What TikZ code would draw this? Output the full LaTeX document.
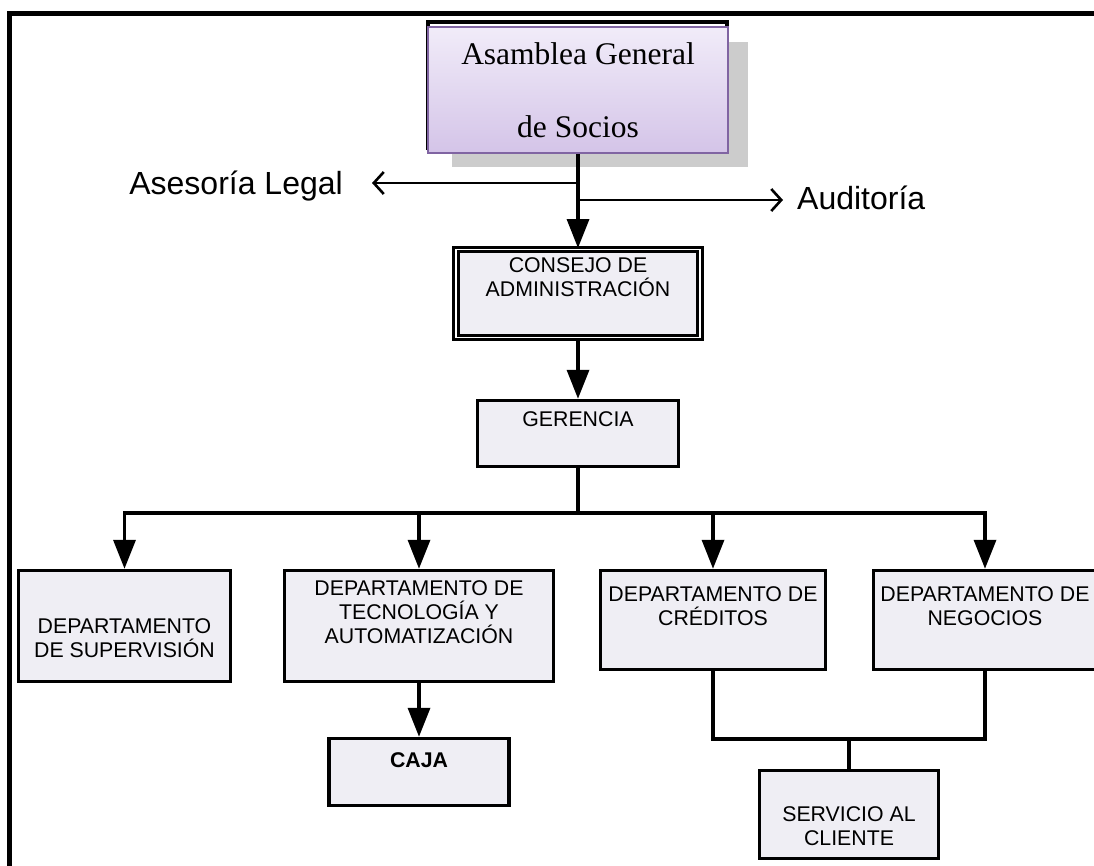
\documentclass[tikz,border=0pt]{standalone}
\usepackage{fontspec}
\setmainfont{Liberation Serif}
\setsansfont{Liberation Sans}
\usetikzlibrary{arrows.meta,positioning}

\definecolor{boxfill}{RGB}{239,238,244}
\definecolor{asamborder}{RGB}{128,100,162}
\definecolor{asamtop}{RGB}{241,236,249}
\definecolor{asambottom}{RGB}{212,196,232}

\tikzset{
  dept/.style = {draw, line width=3.5pt, fill=boxfill, inner sep=0pt},
  lbl/.style = {font=\sffamily\fontsize{21.3}{24}\selectfont, align=center, inner sep=0pt},
  sidelbl/.style = {font=\sffamily\fontsize{32}{36}\selectfont, inner sep=0pt},
  link/.style = {line width=3.5pt},
  arr/.style = {link, -{Triangle[length=29pt,width=22pt]}},
  side/.style = {line width=2.6pt, -{Straight Barb[length=10pt,width=22pt]}},
}

\begin{document}
\begin{tikzpicture}[x=1pt, y=-1pt]
  \useasboundingbox (0,0) rectangle (1094,865);
  % frame
  \draw[line width=4.5pt] (9.5,870) -- (9.5,13.5) -- (1100,13.5);

  % asamblea
  \fill[black!20] (452,42) rectangle (748,167);
  \draw[line width=3.5pt] (428,150) -- (428,22) -- (727,22) -- (727,150);
  \node[draw=asamborder, line width=1.8pt, top color=asamtop, bottom color=asambottom,
        minimum width=300pt, minimum height=126pt, align=center,
        font=\fontsize{31.5}{73}\selectfont] (asam) at (578,90) {Asamblea General\\de Socios};

  % side units
  \node[sidelbl, anchor=east] (legal) at (343,186) {Asesoría Legal};
  \node[sidelbl, anchor=west] (audit) at (797,198) {Auditoría};
  \coordinate (j) at (578,183);
  \coordinate (k) at (578,200);
  \draw[side, shorten >=29pt] (j) -- (j -| legal.east);
  \draw[side, shorten >=14pt] (k) -- (k -| audit.west);

  % boxes
  \node[draw, line width=3pt, double=white, double distance=1.8pt, fill=boxfill,
        minimum width=244pt, minimum height=88pt] (cons) at (578,293.5) {};
  \node[dept, minimum width=201pt, minimum height=66pt] (ger) at (578,433.5) {};
  \node[dept, minimum width=212pt, minimum height=111pt] (sup) at (124.5,626) {};
  \node[dept, minimum width=269pt, minimum height=111pt] (tec) at (419,626) {};
  \node[dept, minimum width=225pt, minimum height=99pt] (cre) at (713,620) {};
  \node[dept, minimum width=223pt, minimum height=99pt] (neg) at (985,620) {};
  \node[dept, minimum width=180pt, minimum height=67pt] (caja) at (419,772) {};
  \node[dept, minimum width=179pt, minimum height=88pt] (serv) at (849,814.5) {};

  % texts
  \node[lbl] (cons-t) at (578,277) {CONSEJO DE\\ADMINISTRACIÓN};
  \node[lbl] (ger-t) at (578,419) {GERENCIA};
  \node[lbl] (sup-t) at (124.5,638) {DEPARTAMENTO\\DE SUPERVISIÓN};
  \node[lbl] (tec-t) at (419,612) {DEPARTAMENTO DE\\TECNOLOGÍA Y\\AUTOMATIZACIÓN};
  \node[lbl] (cre-t) at (713,606.5) {DEPARTAMENTO DE\\CRÉDITOS};
  \node[lbl] (neg-t) at (985,606.5) {DEPARTAMENTO DE\\NEGOCIOS};
  \node[lbl, font=\sffamily\bfseries\fontsize{21.3}{24}\selectfont] (caja-t) at (419,760) {CAJA};
  \node[lbl] (serv-t) at (849,826.5) {SERVICIO AL\\CLIENTE};

  % connectors
  \draw[arr] (asam.south) -- (cons.north);
  \draw[arr] (cons.south) -- (ger.north);
  \coordinate (br) at (578,513);
  \draw[link] (ger.south) -- (br);
  \draw[link, line cap=rect] (br -| sup.north) -- (br -| neg.north);
  \foreach \d in {sup, tec, cre, neg}
  {
  \draw[arr] (br -| \d.north) -- (\d.north);
  }
  \draw[arr] (tec.south) -- (caja.north);
  \coordinate (m) at (849,739);
  \draw[link] (cre.south) |- (m) -| (neg.south);
  \draw[link] (m) -- (serv.north);
\end{tikzpicture}
\end{document}
